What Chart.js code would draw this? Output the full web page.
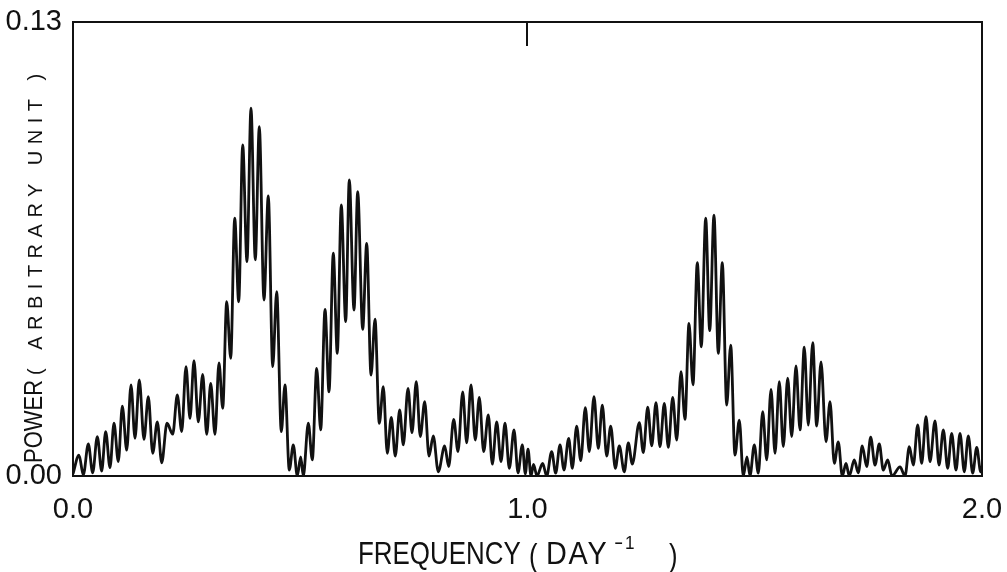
<!DOCTYPE html>
<html>
<head>
<meta charset="utf-8">
<script src="https://cdn.jsdelivr.net/npm/chart.js@4.4.1/dist/chart.umd.min.js"></script>
<style>
  html, body { margin: 0; padding: 0; background: #fff; }
  canvas { display: block; }
</style>
</head>
<body>
<canvas id="myChart" width="1007" height="572"></canvas>
<script>
// frequency (day^-1) and power, peak / trough by peak / trough
const freq = [
  0.0000, 0.0132, 0.0227, 0.0337, 0.0433, 0.0535, 0.0631, 0.0719, 0.0814, 0.0902,
  0.0997, 0.1085, 0.1182, 0.1276, 0.1364, 0.1459, 0.1562, 0.1657, 0.1754, 0.1855,
  0.1952, 0.2068, 0.2194, 0.2295, 0.2392, 0.2486, 0.2574, 0.2662, 0.2757, 0.2854,
  0.2942, 0.3030, 0.3124, 0.3212, 0.3294, 0.3382, 0.3470, 0.3558, 0.3646, 0.3734,
  0.3828, 0.3916, 0.4011, 0.4099, 0.4202, 0.4297, 0.4394, 0.4482, 0.4583, 0.4664,
  0.4759, 0.4847, 0.4935, 0.5010, 0.5067, 0.5177, 0.5265, 0.5362, 0.5450, 0.5545,
  0.5633, 0.5727, 0.5815, 0.5903, 0.6000, 0.6079, 0.6183, 0.6264, 0.6374, 0.6462,
  0.6557, 0.6645, 0.6739, 0.6827, 0.6915, 0.7003, 0.7091, 0.7188, 0.7267, 0.7371,
  0.7459, 0.7553, 0.7641, 0.7738, 0.7833, 0.7927, 0.8037, 0.8178, 0.8266, 0.8376,
  0.8471, 0.8574, 0.8662, 0.8757, 0.8851, 0.8939, 0.9036, 0.9137, 0.9226, 0.9322,
  0.9417, 0.9505, 0.9600, 0.9703, 0.9791, 0.9886, 0.9952, 1.0011, 1.0077, 1.0132,
  1.0209, 1.0334, 1.0422, 1.0532, 1.0620, 1.0715, 1.0803, 1.0906, 1.0986, 1.1082,
  1.1171, 1.1272, 1.1360, 1.1463, 1.1558, 1.1646, 1.1743, 1.1831, 1.1932, 1.2020,
  1.2130, 1.2218, 1.2306, 1.2460, 1.2548, 1.2645, 1.2733, 1.2827, 1.2915, 1.3010,
  1.3098, 1.3195, 1.3283, 1.3377, 1.3465, 1.3553, 1.3641, 1.3736, 1.3824, 1.3921,
  1.4009, 1.4103, 1.4198, 1.4286, 1.4383, 1.4471, 1.4565, 1.4660, 1.4748, 1.4829,
  1.4895, 1.4990, 1.5078, 1.5175, 1.5263, 1.5358, 1.5446, 1.5540, 1.5628, 1.5725,
  1.5813, 1.5908, 1.5996, 1.6090, 1.6178, 1.6275, 1.6363, 1.6458, 1.6568, 1.6656,
  1.6750, 1.6838, 1.6926, 1.7008, 1.7080, 1.7190, 1.7278, 1.7366, 1.7463, 1.7551,
  1.7646, 1.7740, 1.7828, 1.7925, 1.8020, 1.8196, 1.8306, 1.8401, 1.8489, 1.8585,
  1.8673, 1.8768, 1.8856, 1.8966, 1.9054, 1.9149, 1.9245, 1.9333, 1.9428, 1.9516,
  1.9611, 1.9699, 1.9795, 1.9884, 1.9971, 2.0000
]
const power = [
  0.0006, 0.0060, 0.0003, 0.0092, 0.0009, 0.0113, 0.0014, 0.0127, 0.0024, 0.0151,
  0.0041, 0.0200, 0.0074, 0.0261, 0.0108, 0.0275, 0.0105, 0.0227, 0.0065, 0.0155,
  0.0038, 0.0151, 0.0120, 0.0232, 0.0127, 0.0313, 0.0165, 0.0330, 0.0155, 0.0291,
  0.0119, 0.0265, 0.0119, 0.0324, 0.0194, 0.0499, 0.0337, 0.0738, 0.0499, 0.0948,
  0.0614, 0.1053, 0.0619, 0.1000, 0.0504, 0.0802, 0.0313, 0.0528, 0.0127, 0.0261,
  0.0017, 0.0089, 0.0000, 0.0055, 0.0000, 0.0151, 0.0046, 0.0308, 0.0132, 0.0477,
  0.0241, 0.0638, 0.0351, 0.0776, 0.0442, 0.0848, 0.0475, 0.0814, 0.0420, 0.0666,
  0.0289, 0.0449, 0.0151, 0.0256, 0.0065, 0.0168, 0.0057, 0.0189, 0.0089, 0.0251,
  0.0124, 0.0270, 0.0113, 0.0213, 0.0057, 0.0115, 0.0012, 0.0086, 0.0027, 0.0162,
  0.0070, 0.0241, 0.0095, 0.0261, 0.0103, 0.0225, 0.0070, 0.0175, 0.0034, 0.0155,
  0.0041, 0.0151, 0.0022, 0.0132, 0.0009, 0.0089, 0.0006, 0.0077, 0.0000, 0.0033,
  0.0000, 0.0036, 0.0000, 0.0070, 0.0008, 0.0089, 0.0017, 0.0108, 0.0022, 0.0143,
  0.0044, 0.0196, 0.0070, 0.0227, 0.0079, 0.0203, 0.0057, 0.0143, 0.0022, 0.0086,
  0.0012, 0.0095, 0.0034, 0.0153, 0.0067, 0.0197, 0.0086, 0.0210, 0.0084, 0.0208,
  0.0082, 0.0225, 0.0103, 0.0299, 0.0162, 0.0437, 0.0261, 0.0611, 0.0370, 0.0738,
  0.0416, 0.0747, 0.0351, 0.0611, 0.0203, 0.0375, 0.0060, 0.0160, 0.0000, 0.0055,
  0.0000, 0.0089, 0.0008, 0.0184, 0.0046, 0.0248, 0.0065, 0.0270, 0.0084, 0.0280,
  0.0113, 0.0315, 0.0132, 0.0369, 0.0146, 0.0382, 0.0143, 0.0327, 0.0098, 0.0213,
  0.0036, 0.0098, 0.0000, 0.0036, 0.0000, 0.0046, 0.0009, 0.0086, 0.0027, 0.0111,
  0.0031, 0.0092, 0.0017, 0.0046, 0.0000, 0.0026, 0.0000, 0.0084, 0.0031, 0.0146,
  0.0036, 0.0170, 0.0041, 0.0158, 0.0031, 0.0132, 0.0022, 0.0122, 0.0017, 0.0122,
  0.0012, 0.0115, 0.0008, 0.0082, 0.0012, 0.0029
]
const xTicks = [0, 1, 2]
const xTickLabels = ['0.0', '1.0', '2.0']
const yTicks = [0, 0.13]
const yTickLabels = ['0.00', '0.13']
const topMarks = [1]

const ink = '#111'
const face = '"Liberation Sans", Arial, sans-serif'
const points = freq.map((f, i) => ({ x: f, y: power[i] }))

// narrow lettering like the original: draw text squeezed sideways
function squeezed(c, s, x, y, size, sx, spacing) {
  c.save()
  c.translate(x, y)
  c.scale(sx, 1)
  c.font = size + 'px ' + face
  if ('letterSpacing' in c) c.letterSpacing = (spacing || 0) + 'px'
  c.fillText(s, 0, 0)
  c.restore()
}

// white page, frame round the plot, the small mark on the top edge, axis titles
const decor = {
  id: 'decor',
  beforeDraw(chart) {
    const c = chart.ctx
    c.save()
    c.fillStyle = '#fff'
    c.fillRect(0, 0, chart.width, chart.height)
    c.restore()
  },
  afterDraw(chart) {
    const c = chart.ctx
    const a = chart.chartArea
    const xs = chart.scales.x
    c.save()
    c.strokeStyle = ink
    c.lineWidth = 2
    c.strokeRect(a.left, a.top, a.right - a.left, a.bottom - a.top)
    topMarks.forEach(v => {
      const px = Math.round(xs.getPixelForValue(v)) - 1
      c.beginPath()
      c.moveTo(px, a.top)
      c.lineTo(px, a.top + 24)
      c.stroke()
    })

    c.fillStyle = ink
    c.textBaseline = 'alphabetic'
    c.textAlign = 'left'

    // x title
    squeezed(c, 'FREQUENCY', 358, 564, 32, 0.81)
    squeezed(c, '(', 529, 566, 32, 0.8)
    squeezed(c, 'DAY', 546, 564, 32, 0.9, 2)
    squeezed(c, '-', 614, 549, 20, 1.4)
    squeezed(c, '1', 625, 549, 19, 0.9)
    squeezed(c, ')', 669, 566, 32, 0.8)

    // y title, rotated
    c.translate(42, 0)
    c.rotate(-Math.PI / 2)
    squeezed(c, 'POWER', -463, 0, 25, 0.88)
    squeezed(c, '( ARBITRARY UNIT )', -375, 0, 20, 1, 6.5)
    c.restore()
  }
}

new Chart(document.getElementById('myChart').getContext('2d'), {
  type: 'line',
  data: {
    datasets: [{
      data: points,
      borderColor: ink,
      borderWidth: 2.8,
      pointRadius: 0,
      fill: false,
      cubicInterpolationMode: 'monotone'
    }]
  },
  options: {
    responsive: false,
    animation: false,
    devicePixelRatio: 1,
    layout: { padding: { left: 0, top: 22, right: 25, bottom: 0 } },
    plugins: { legend: { display: false }, tooltip: { enabled: false } },
    scales: {
      x: {
        type: 'linear',
        min: 0,
        max: 2,
        grid: { display: false, drawTicks: false },
        border: { display: false },
        afterBuildTicks: s => { s.ticks = xTicks.map(v => ({ value: v })) },
        afterFit: s => {
          s.height = 96
          s.paddingLeft = 0
          s.paddingRight = 0
        },
        ticks: {
          autoSkip: false,
          maxRotation: 0,
          padding: 17,
          color: ink,
          font: { family: face, size: 29 },
          callback: v => xTickLabels[xTicks.indexOf(v)]
        }
      },
      y: {
        min: 0,
        max: 0.13,
        grid: { display: false, drawTicks: false },
        border: { display: false },
        afterBuildTicks: s => { s.ticks = yTicks.map(v => ({ value: v })) },
        afterFit: s => {
          s.width = 73
          s.paddingTop = 0
          s.paddingBottom = 0
        },
        ticks: {
          autoSkip: false,
          padding: 11,
          color: ink,
          font: { family: face, size: 29 },
          callback: v => yTickLabels[yTicks.indexOf(v)]
        }
      }
    }
  },
  plugins: [decor]
})
</script>
</body>
</html>
